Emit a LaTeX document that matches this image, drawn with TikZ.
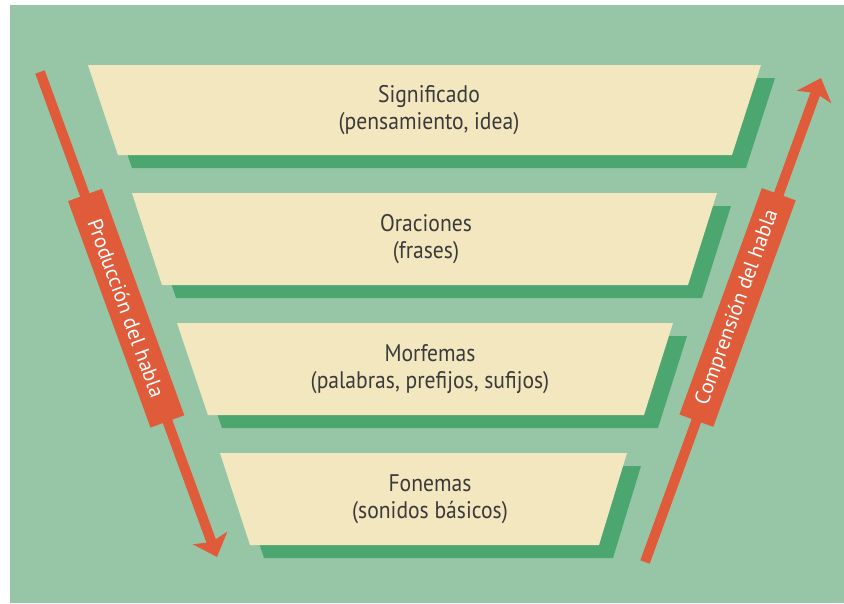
\documentclass[tikz,border=0pt]{standalone}
\usepackage{fontspec}
\setmainfont[FakeStretch=0.9]{PT Sans}
\newfontfamily\labelfont{PT Sans}
\usetikzlibrary{arrows.meta,calc}
\definecolor{bggreen}{HTML}{97C6A6}
\definecolor{cream}{HTML}{F3E7BF}
\definecolor{shadowgreen}{HTML}{4BA66F}
\definecolor{arrowred}{HTML}{DF5B3A}
\definecolor{textgray}{HTML}{3A3A3A}
\tikzset{
  layerfill/.style={fill=cream},
  layershadow/.style={fill=shadowgreen, shift={(14,-13)}},
  layertext/.style={align=center, text=textgray, font=\fontsize{24}{27}\selectfont, inner sep=0pt},
  arrowline/.style={draw=arrowred, line width=10pt, -{Stealth[length=20pt,width=36pt,inset=4pt]}},
  labelbox/.style={fill=arrowred, minimum width=241pt, minimum height=36pt, inner sep=0pt, text=white, font=\labelfont\fontsize{21}{21}\selectfont}
}
\begin{document}
\begin{tikzpicture}[x=1pt,y=1pt]
\useasboundingbox (0,0) rectangle (844,-603);
\fill[bggreen] (10,-5) rectangle (844,-603);
% layer 1
\fill[layershadow] (88,-65) -- (761,-65) -- (732,-155) -- (118,-155) -- cycle;
\fill[layerfill] (88,-65) -- (761,-65) -- (732,-155) -- (118,-155) -- cycle;
% layer 2
\fill[layershadow] (132,-193) -- (717,-193) -- (688,-285) -- (162,-285) -- cycle;
\fill[layerfill] (132,-193) -- (717,-193) -- (688,-285) -- (162,-285) -- cycle;
% layer 3
\fill[layershadow] (177,-323) -- (673,-323) -- (644,-415) -- (208,-415) -- cycle;
\fill[layerfill] (177,-323) -- (673,-323) -- (644,-415) -- (208,-415) -- cycle;
% layer 4
\fill[layershadow] (220,-453) -- (627,-453) -- (599,-545) -- (250,-545) -- cycle;
\fill[layerfill] (220,-453) -- (627,-453) -- (599,-545) -- (250,-545) -- cycle;
% texts
\node[layertext] (t1) at (429,-110) {Significado\\(pensamiento, idea)};
\node[layertext] (t2) at (426,-239) {Oraciones\\(frases)};
\node[layertext] (t3) at (430,-369) {Morfemas\\(palabras, prefijos, sufijos)};
\node[layertext] (t4) at (430,-499) {Fonemas\\(sonidos básicos)};
% production arrow
\coordinate (ps) at (40,-72);
\coordinate (pe) at (217,-557);
\draw[arrowline] (ps) -- (pe);
\node[labelbox, rotate=-70] (pl) at ($(ps)!0.487!(pe)$) {Producción del habla};
% comprehension arrow
\coordinate (cs) at (645,-562);
\coordinate (ce) at (821,-78);
\draw[arrowline] (cs) -- (ce);
\node[labelbox, rotate=70] (cl) at ($(cs)!0.526!(ce)$) {Comprensión del habla};
\end{tikzpicture}
\end{document}
